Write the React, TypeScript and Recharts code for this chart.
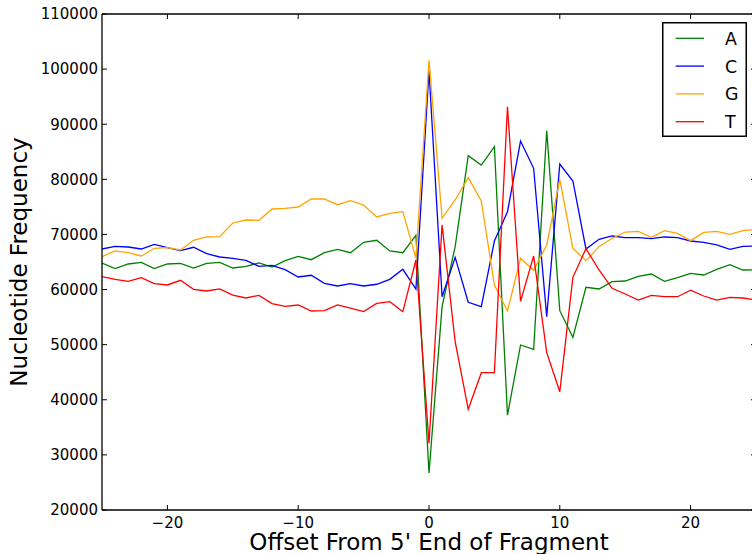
import React from 'react';
import { LineChart, Line, XAxis, YAxis, Legend } from 'recharts';

const offsets = [
  -25, -24, -23, -22, -21, -20, -19, -18, -17, -16, -15, -14, -13, -12, -11, -10, -9, -8, -7, -6, -5, -4, -3, -2, -1,
  0, 1, 2, 3, 4, 5, 6, 7, 8, 9, 10, 11, 12, 13, 14, 15, 16, 17, 18, 19, 20, 21, 22, 23, 24, 25,
];

const aValues = [
  64820, 63790, 64640, 64940, 63790, 64640, 64760, 63910, 64760, 64940, 63910, 64220, 64820, 64090, 65240, 66030, 65420,
  66690, 67300, 66690, 68570, 68940, 67000, 66690, 69840, 26700, 56890, 67780, 84290, 82600, 85920, 37200, 49940, 49160,
  88830, 56170, 51330, 60410, 60100, 61430, 61550, 62400, 62820, 61490, 62150, 62940, 62640, 63670, 64520, 63550, 63600,
];

const cValues = [
  67360, 67850, 67720, 67360, 68210, 67610, 67060, 67670, 66510, 65910, 65670, 65310, 64220, 64400, 63610, 62280, 62590,
  61140, 60650, 61070, 60650, 60960, 61860, 63680, 60100, 99700, 58700, 65850, 57690, 56890, 68810, 74130, 86950, 82000,
  55080, 82780, 79700, 67360, 69120, 69720, 69410, 69410, 69230, 69540, 69410, 68810, 68570, 68090, 67300, 67850, 67900,
];

const gValues = [
  65960, 67000, 66690, 66090, 67490, 67610, 67180, 68940, 69540, 69600, 72080, 72620, 72560, 74620, 74740, 74980, 76430,
  76430, 75400, 76130, 75340, 73170, 73830, 74130, 65670, 101650, 72930, 76250, 80300, 76070, 60830, 56110, 65670, 63490,
  68090, 80000, 67480, 65240, 67780, 69300, 70440, 70560, 69480, 70680, 70200, 68870, 70380, 70560, 70010, 70680, 70900,
];

const tValues = [
  62340, 61860, 61500, 62150, 61060, 60830, 61680, 60050, 59740, 60110, 59010, 58470, 58950, 57440, 56960, 57200, 56110,
  56170, 57200, 56650, 55990, 57500, 57800, 55990, 65360, 32100, 71710, 50540, 38270, 44920, 44920, 93180, 57860, 66090,
  48550, 41470, 62220, 67420, 63550, 60220, 59190, 58100, 58950, 58700, 58700, 59870, 58830, 58100, 58590, 58470, 58100,
];

const seriesNames = ['A', 'C', 'G', 'T'];
const seriesColors = ['#008000', '#0000ff', '#ffa500', '#ff0000'];
const xTicks = [-20, -10, 0, 10, 20];
const yTicks = [20000, 30000, 40000, 50000, 60000, 70000, 80000, 90000, 100000, 110000];
const xTitle = "Offset From 5' End of Fragment";
const yTitle = 'Nucleotide Frequency';

const rows = offsets.map((x, i) => ({ x, A: aValues[i], C: cValues[i], G: gValues[i], T: tValues[i] }));

const FONT = '"DejaVu Sans", sans-serif';
const fmt = (v: number) => (v < 0 ? '\u2212' + Math.abs(v) : String(v));
const blank = () => '';

const YTitle = () => (
  <text x={26.5} y={262} transform="rotate(-90, 26.5, 262)" textAnchor="middle" fill="#000" fontSize={23} fontFamily={FONT}>
    {yTitle}
  </text>
);

const XTitle = () => (
  <text x={429} y={550} textAnchor="middle" fill="#000" fontSize={23} fontFamily={FONT}>
    {xTitle}
  </text>
);

const LegendBox = () => (
  <svg width={86} height={116} style={{ display: 'block' }}>
    <rect x={0.75} y={0.75} width={83.5} height={113.5} fill="#fff" stroke="#000" strokeWidth={1.5} />
    {seriesNames.map((name, i) => {
      const y = 16.3 + i * 27.8;
      return (
        <g key={name}>
          <line x1={13.7} x2={42} y1={y} y2={y} stroke={seriesColors[i]} strokeWidth={1.3} />
          <text x={63} y={y + 6.5} fill="#000" fontSize={17.4} fontFamily={FONT}>
            {name}
          </text>
        </g>
      );
    })}
  </svg>
);

export default function App() {
  return (
    <div style={{ position: 'absolute', left: 0, top: 0, width: 752, height: 554, overflow: 'hidden', background: '#fff' }}>
      <LineChart width={800} height={554} data={rows} margin={{ top: 13, right: 43, bottom: 0, left: 0 }}>
        <XAxis
          xAxisId="bottom"
          type="number"
          dataKey="x"
          domain={[-25, 25]}
          ticks={xTicks}
          interval={0}
          allowDataOverflow
          height={44}
          tickSize={-5}
          tickMargin={12}
          axisLine={{ stroke: '#000', strokeWidth: 1.3 }}
          tickLine={{ stroke: '#000', strokeWidth: 1 }}
          tick={{ fill: '#000', fontSize: 15, fontFamily: FONT }}
          tickFormatter={fmt}
          label={<XTitle />}
        />
        <XAxis
          xAxisId="top"
          orientation="top"
          type="number"
          dataKey="x"
          domain={[-25, 25]}
          ticks={xTicks}
          interval={0}
          allowDataOverflow
          height={1}
          tickSize={-5}
          axisLine={{ stroke: '#000', strokeWidth: 1.3 }}
          tickLine={{ stroke: '#000', strokeWidth: 1 }}
          tickFormatter={blank}
        />
        <YAxis
          yAxisId="left"
          type="number"
          domain={[20000, 110000]}
          ticks={yTicks}
          interval={0}
          allowDataOverflow
          width={102}
          tickSize={-5}
          tickMargin={9}
          axisLine={{ stroke: '#000', strokeWidth: 1.3 }}
          tickLine={{ stroke: '#000', strokeWidth: 1 }}
          tick={{ fill: '#000', fontSize: 15, fontFamily: FONT }}
          label={<YTitle />}
        />
        <YAxis
          yAxisId="right"
          orientation="right"
          type="number"
          domain={[20000, 110000]}
          ticks={yTicks}
          interval={0}
          allowDataOverflow
          width={1}
          tickSize={-5}
          axisLine={{ stroke: '#000', strokeWidth: 1.3 }}
          tickLine={{ stroke: '#000', strokeWidth: 1 }}
          tickFormatter={blank}
        />
        {seriesNames.map((name, i) => (
          <Line
            key={name}
            xAxisId="bottom"
            yAxisId="left"
            type="linear"
            dataKey={name}
            stroke={seriesColors[i]}
            strokeWidth={1.3}
            dot={false}
            activeDot={false}
            isAnimationActive={false}
          />
        ))}
        <Legend
          layout="vertical"
          align="center"
          verticalAlign="middle"
          content={<LegendBox />}
          wrapperStyle={{ position: 'absolute', left: 662, top: 22, width: 86, height: 116 }}
        />
      </LineChart>
    </div>
  );
}
